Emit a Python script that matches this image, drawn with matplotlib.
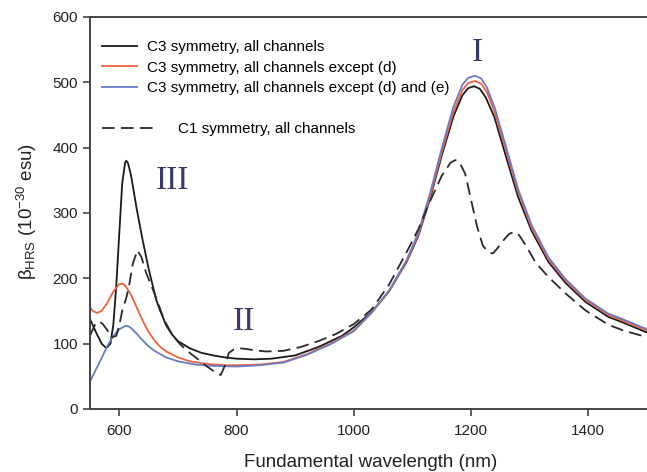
import matplotlib
matplotlib.use("Agg")
import matplotlib.pyplot as plt

plt.rcParams['font.family'] = ['Liberation Sans', 'DejaVu Sans']
plt.rcParams['mathtext.fontset'] = 'custom'
plt.rcParams['mathtext.rm'] = 'Liberation Sans'
plt.rcParams['mathtext.it'] = 'Liberation Sans:italic'

# C3 symmetry, all channels (black solid)
wl_c3_all = [550, 560, 570, 578, 585, 590, 595, 600, 605, 610, 612, 615, 620, 630, 640,
             650, 663, 670, 680, 690, 700, 720, 740, 760, 780, 800, 830, 860, 900, 940,
             980, 1000, 1030, 1060, 1090, 1110, 1130, 1150, 1170, 1185, 1195, 1205, 1215,
             1225, 1240, 1260, 1280, 1303, 1332, 1361, 1395, 1434, 1460, 1500]
beta_c3_all = [138, 118, 100, 93, 100, 130, 190, 268, 345, 377, 380, 376, 358, 305, 258,
               215, 167, 150, 128, 114, 104, 93, 86, 82, 79, 77, 76, 77, 82, 95,
               112, 125, 148, 180, 225, 265, 322, 388, 448, 480, 491, 494, 490,
               477, 446, 385, 325, 273, 225, 193, 164, 141, 132, 117]

# C3 symmetry, all channels except (d) (red)
wl_c3_d = [550, 555, 562, 570, 580, 590, 600, 605, 610, 620, 630, 640, 650, 660, 670,
           680, 700, 720, 750, 780, 800, 840, 880, 920, 960, 1000, 1030, 1060, 1090,
           1110, 1130, 1150, 1170, 1185, 1195, 1207, 1217, 1227, 1240, 1260, 1280, 1303,
           1332, 1361, 1395, 1434, 1460, 1500]
beta_c3_d = [156, 150, 147, 150, 163, 180, 191, 192, 189, 175, 155, 135, 118, 105, 95,
             88, 79, 73, 69, 67, 67, 68, 72, 84, 100, 120, 147, 180, 226,
             267, 325, 393, 455, 488, 499, 502, 498, 485, 455, 395, 333, 278,
             229, 197, 167, 144, 135, 120]

# C3 symmetry, all channels except (d) and (e) (blue)
wl_c3_de = [550, 560, 570, 580, 590, 600, 610, 615, 620, 630, 640, 650, 660, 680, 700,
            730, 760, 800, 840, 880, 920, 960, 1000, 1030, 1060, 1090, 1110, 1130, 1150,
            1170, 1185, 1195, 1207, 1217, 1227, 1240, 1260, 1280, 1303, 1332, 1361, 1395,
            1434, 1460, 1500]
beta_c3_de = [42, 60, 78, 97, 112, 122, 127, 127, 124, 115, 105, 96, 89, 79, 73,
              68, 66, 65, 67, 71, 83, 99, 119, 147, 181, 228, 270, 330, 399,
              463, 496, 507, 510, 506, 492, 462, 400, 337, 282, 232, 199, 169,
              146, 137, 122]

# C1 symmetry, all channels (black dashed)
wl_c1 = [550, 555, 560, 566, 572, 580, 588, 595, 600, 605, 612, 617, 623, 631, 638,
         646, 655, 663, 675, 685, 695, 705, 720, 736, 748, 758, 766, 773, 780, 787,
         795, 804, 815, 830, 850, 880, 910, 940, 970, 1000, 1030, 1060, 1090, 1110,
         1130, 1150, 1165, 1173, 1180, 1190, 1200, 1210, 1220, 1230, 1237, 1245, 1255,
         1265, 1273, 1282, 1295, 1310, 1332, 1361, 1395, 1434, 1460, 1500]
beta_c1 = [112, 122, 131, 134, 130, 120, 110, 112, 128, 150, 170, 190, 222, 243, 232,
           208, 188, 170, 140, 122, 108, 98, 86, 75, 66, 60, 54, 52, 66, 86,
           91, 93, 92, 90, 88, 89, 95, 104, 115, 130, 152, 190, 240, 275,
           318, 357, 377, 381, 378, 360, 320, 280, 250, 240, 238, 246, 258,
           268, 271, 266, 248, 224, 202, 177, 151, 129, 120, 110]

labels = ["C3 symmetry, all channels",
          "C3 symmetry, all channels except (d)",
          "C3 symmetry, all channels except (d) and (e)",
          "C1 symmetry, all channels"]

# region labels (roman numerals) and where they sit in data units
peak_names = ["III", "II", "I"]
peak_pos = [(690, 350), (813, 133), (1211, 545)]

fig = plt.figure(figsize=(6.47, 4.72), dpi=100)
ax = fig.add_axes([0.139, 0.1335, 0.861, 0.8305])

l1, = ax.plot(wl_c3_all, beta_c3_all, color='#1a1a1a', lw=1.3)
l2, = ax.plot(wl_c3_d, beta_c3_d, color='#f0623e', lw=1.3)
l3, = ax.plot(wl_c3_de, beta_c3_de, color='#6b7cc6', lw=1.3)
l4, = ax.plot(wl_c1, beta_c1, color='#2a2a2a', lw=1.3, dashes=(7, 3.5))

ax.set_xlim(550, 1500)
ax.set_ylim(0, 600)
ax.set_xticks([600, 800, 1000, 1200, 1400])
ax.set_yticks([0, 100, 200, 300, 400, 500, 600])

for s in ['left', 'bottom', 'top']:
    ax.spines[s].set_color('#444444')
    ax.spines[s].set_linewidth(1.4)
ax.spines['right'].set_visible(False)
ax.tick_params(direction='out', length=5, width=1.2, color='#444444',
               labelsize=11, labelcolor='#222222')
ax.tick_params(axis='x', pad=6)

ax.set_xlabel("Fundamental wavelength (nm)", fontsize=13.5, color='#222222', va='top')
ax.xaxis.set_label_coords(0.503, -0.115)
ax.set_ylabel("β$_{\\mathrm{HRS}}$ (10$^{-30}$ esu)", fontsize=13.5, color='#222222')
ax.yaxis.set_label_coords(-0.092, 0.505)

leg1 = ax.legend([l1, l2, l3], labels[:3], loc='upper left', bbox_to_anchor=(-0.003, 0.976),
                 frameon=False, fontsize=11, handlelength=2.3, handletextpad=0.65,
                 labelspacing=0.42)
ax.add_artist(leg1)
ax.legend([l4], labels[3:], loc='upper left', bbox_to_anchor=(-0.003, 0.767),
          frameon=False, fontsize=11, handlelength=3.4, handletextpad=1.6)

for name, (px, py) in zip(peak_names, peak_pos):
    ax.text(px, py, name, family=['Liberation Serif', 'DejaVu Serif'], fontsize=24,
            color='#3a3a68', ha='center', va='center')

fig.savefig("out.png", dpi=100)
